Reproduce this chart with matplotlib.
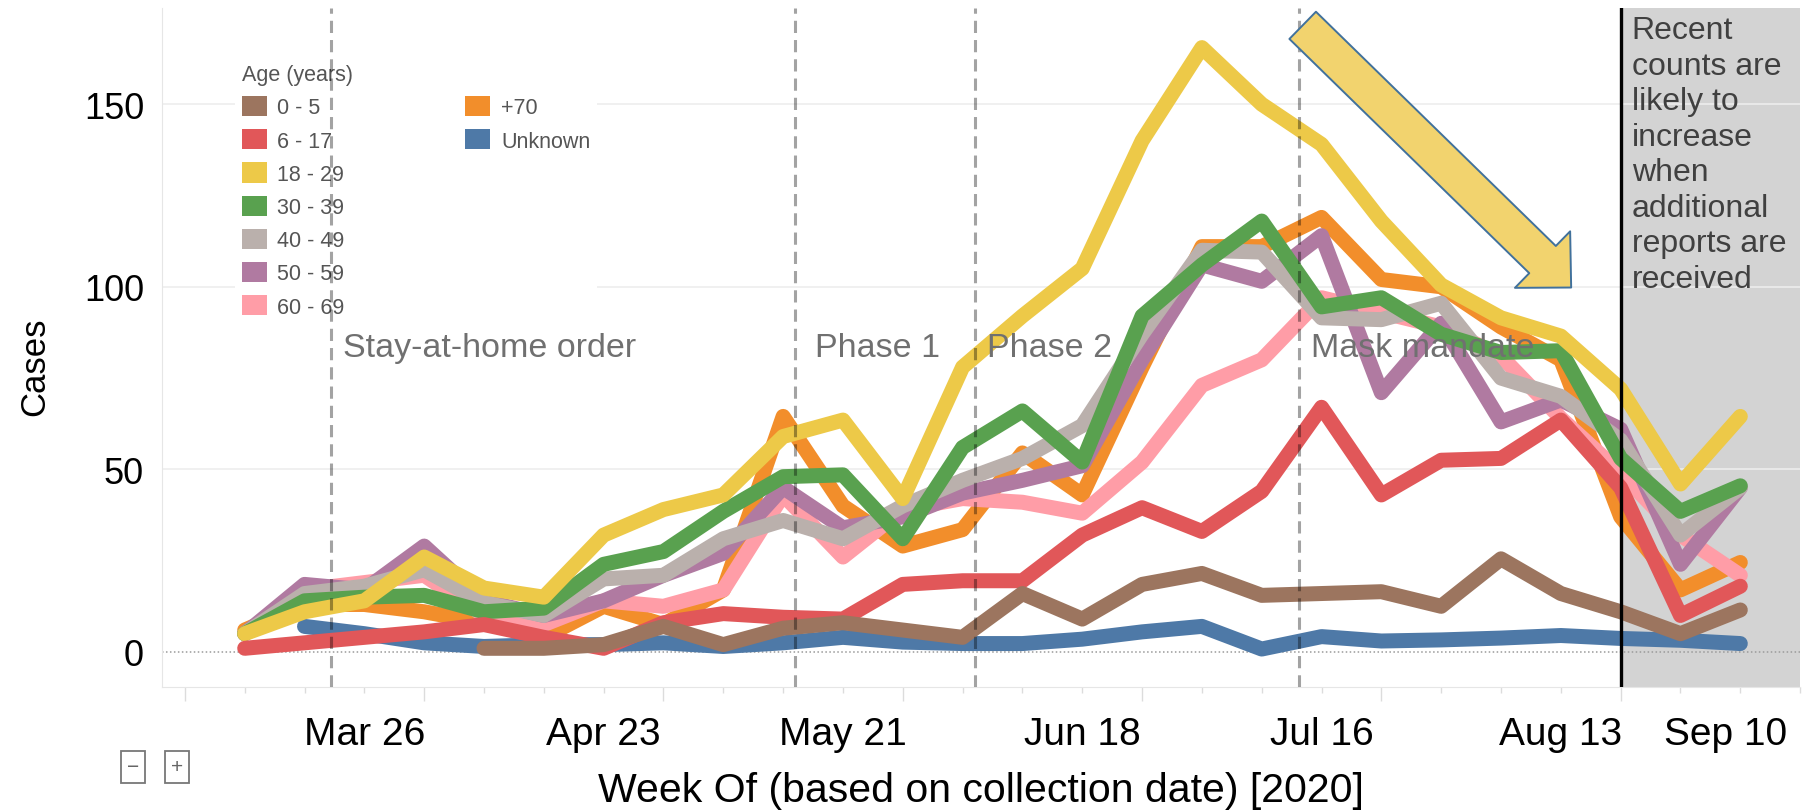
import matplotlib
matplotlib.use('Agg')
import matplotlib.pyplot as plt
import matplotlib.transforms as mtransforms
from matplotlib.patches import Patch
import numpy as np
import pandas as pd

plt.rcParams['font.family'] = ['Liberation Sans', 'DejaVu Sans']

# week of collection (2020), one point per week
weeks = pd.date_range('2020-03-12', periods=26, freq='7D')

nan = np.nan
age_0_5 = [nan, nan, nan, nan, 1, 1, 2, 7, 2, 6.5, 8, 6, 4, 16, 9, 18.5,
           21.5, 15.5, 16, 16.5, 12.5, 25.5, 16, 11, 5, 11.5]
age_6_17 = [1, 2.5, 4, 5.5, 7.5, 4, 1, 8, 10.5, 9.5, 9, 18.5, 19.5, 19.5, 32, 39.5,
            33, 44, 67, 43, 52.5, 53, 63.5, 45, 10, 18]
age_18_29 = [5, 11, 14, 26, 17.5, 15, 32, 39, 43, 59, 63.5, 42, 78, 92, 105, 140,
             165.5, 150, 139, 118, 100.5, 91.5, 86.5, 72, 46, 64.5]
age_30_39 = [5, 14, 15, 15.5, 11, 12, 24, 27.5, 38.5, 48, 48.5, 31, 56, 66, 52, 92,
             106, 118, 94.5, 97, 87, 82, 82.5, 53, 38.5, 45.5]
age_40_49 = [5, 16, 18, 22.5, 13.5, 10, 20, 21, 31, 36, 31, 40, 47, 53, 62, 87,
             110, 109.5, 91.5, 91, 95.5, 75, 70, 58, 32, 45]
age_50_59 = [5, 18.5, 17, 29, 14, 10, 14, 21, 27, 45, 34, 37, 43.5, 47, 51, 80,
             106, 101.5, 114, 71, 90, 63, 69, 61, 24, 45]
age_60_69 = [5, 17, 19, 21, 10, 7.5, 14, 12.5, 17, 43, 26, 39, 42, 41, 38, 52,
             73, 80, 97, 93, 89, 81, 64, 49, 32, 21]
age_70 = [6, 13, 13, 11, 8, 4, 12.5, 7.5, 17, 64.5, 40, 29, 33.5, 54.5, 43, 78,
          111, 111, 119, 102, 100, 89, 80, 37, 17, 24.5]
unknown = [nan, 7, 5, 2.5, 1.5, 2, 2, 2.5, 1.5, 2.5, 4, 2.7, 2.3, 2.3, 3.5, 5.5,
           7, 0.8, 4.2, 3, 3.3, 3.8, 4.5, 3.7, 3.2, 2.3]

series = [age_0_5, age_6_17, age_18_29, age_30_39, age_40_49, age_50_59,
          age_60_69, age_70, unknown]
labels = ['0 - 5', '6 - 17', '18 - 29', '30 - 39', '40 - 49', '50 - 59',
          '60 - 69', '+70', 'Unknown']
colors = ['#9C755F', '#E15759', '#EDC948', '#59A14F', '#BAB0AC', '#B07AA1',
          '#FF9DA7', '#F28E2B', '#4E79A7']

# policy events
event_dates = pd.to_datetime(['2020-03-22 03:00', '2020-05-15 10:00',
                              '2020-06-05 10:00', '2020-07-13 10:00'])
event_labels = ['Stay-at-home order', 'Phase 1', 'Phase 2', 'Mask mandate']
event_text_dx = [8.5, 14.5, 8.5, 8.5]
event_text_y = 83.5

recent_cutoff = weeks[23]
tick_dates = pd.date_range('2020-03-26', periods=7, freq='28D')
weekly_ticks = pd.date_range('2020-03-05', '2020-09-10', freq='7D')
long_ticks = pd.date_range('2020-03-05', '2020-09-10', freq='28D')

fig = plt.figure(figsize=(18.09, 8.12), dpi=100)
ax = fig.add_axes([0.0896, 0.1527, 0.9055, 0.836])

x_left = pd.Timestamp('2020-03-02 08:00')
x_right = pd.Timestamp('2020-09-10')

# shaded "recent" region
ax.axvspan(recent_cutoff, x_right, color='#d3d3d3', zorder=0, lw=0)
for yv in [50, 100, 150]:
    ax.axhline(yv, color='#ededed', lw=1.2, zorder=0.6)
ax.axhline(0, color='#9a9a9a', lw=1.1, ls=(0, (1, 1.6)), zorder=0.7)

for i, (vals, lab, col) in enumerate(zip(series, labels, colors)):
    ax.plot(weeks, vals, color=col, lw=10.8, label=lab, zorder=20 - i,
            solid_joinstyle='round', solid_capstyle='round')

for d, txt, dx in zip(event_dates, event_labels, event_text_dx):
    ax.axvline(d, color='black', alpha=0.36, lw=2.2, dashes=(4, 2.3), zorder=25)
    ax.annotate(txt, xy=(d, event_text_y), xytext=(dx, 0), textcoords='offset points',
                ha='left', va='center', fontsize=24.5, color='#707070', zorder=26)

ax.axvline(recent_cutoff, color='black', lw=2.4, zorder=27)
ax.annotate('Recent\ncounts are\nlikely to\nincrease\nwhen\nadditional\nreports are\nreceived',
            xy=(recent_cutoff, 1), xycoords=('data', 'axes fraction'),
            xytext=(8, -5), textcoords='offset points', ha='left', va='top',
            fontsize=23, color='#404040', linespacing=1.24, zorder=28)

# big trend arrow
ax.annotate('', xy=(pd.Timestamp('2020-08-14 05:00'), 99.8),
            xytext=(pd.Timestamp('2020-07-13 19:00'), 171.6),
            arrowprops=dict(arrowstyle='simple,head_length=0.40,head_width=0.79,tail_width=0.38',
                            mutation_scale=72, fc='#F2D36E', ec='#41719C', lw=1.4,
                            shrinkA=0, shrinkB=0),
            zorder=30)

ax.set_xlim(x_left, x_right)
ax.set_ylim(-9.6, 176.3)
ax.set_yticks([0, 50, 100, 150])

# x ticks: long marks every 4 weeks, short weekly marks carrying the labels
ax.set_xticks(long_ticks, labels=[''] * len(long_ticks))
week_labels = [d.strftime('%b %d').replace(' 0', ' ') if d in tick_dates else ''
               for d in weekly_ticks]
ax.set_xticks(weekly_ticks, labels=week_labels, minor=True)
ax.tick_params(axis='x', which='major', length=10, color='#dcdcdc', width=1)
ax.tick_params(axis='x', which='minor', length=4, color='#dcdcdc', width=1,
               pad=17, labelsize=28)
# last label sits at the edge, pushed inward like the original
last = ax.get_xticklabels(minor=True)[-1]
last.set_horizontalalignment('right')
last.set_transform(last.get_transform() +
                   mtransforms.ScaledTranslation(-0.13, 0, fig.dpi_scale_trans))
ax.tick_params(axis='y', length=0, pad=13, labelsize=26)

for s in ['top', 'right']:
    ax.spines[s].set_visible(False)
for s in ['left', 'bottom']:
    ax.spines[s].set_color('#e6e6e6')

ax.set_xlabel('Week Of (based on collection date) [2020]', fontsize=29.5)
ax.xaxis.set_label_coords(0.5, -0.1517)
ax.xaxis.label.set_va('center')
ax.set_ylabel('Cases', fontsize=25)
ax.yaxis.set_label_coords(-0.0775, 0.4728)
ax.yaxis.label.set_va('center')

# legend: 7 entries in first column, 2 in the second
handles = [Patch(facecolor=c, edgecolor='none') for c in colors]
blank = Patch(facecolor='none', edgecolor='none')
leg = ax.legend(handles + [blank] * 5, labels + [''] * 5, ncol=2,
                title='Age (years)', alignment='left', fontsize=15.5,
                title_fontsize=15.5, handlelength=1.16, handleheight=1.07,
                handletextpad=0.5, labelspacing=0.5, columnspacing=5.6,
                borderpad=0.3, frameon=True, fancybox=False, facecolor='white',
                edgecolor='none', framealpha=1, loc='upper left',
                bbox_to_anchor=(0.0381, 0.943), labelcolor='#555555')
leg.get_title().set_color('#555555')
leg.set_zorder(3)

# the little zoom buttons
for bx, sym in [(133, '\u2212'), (177, '+')]:
    fig.text(bx / 1809, 1 - 768 / 812, sym, ha='center', va='center', fontsize=15,
             color='#666666',
             bbox=dict(boxstyle='square,pad=0.3', fc='white', ec='#777777', lw=1.3))

fig.savefig('out.png', dpi=100)
